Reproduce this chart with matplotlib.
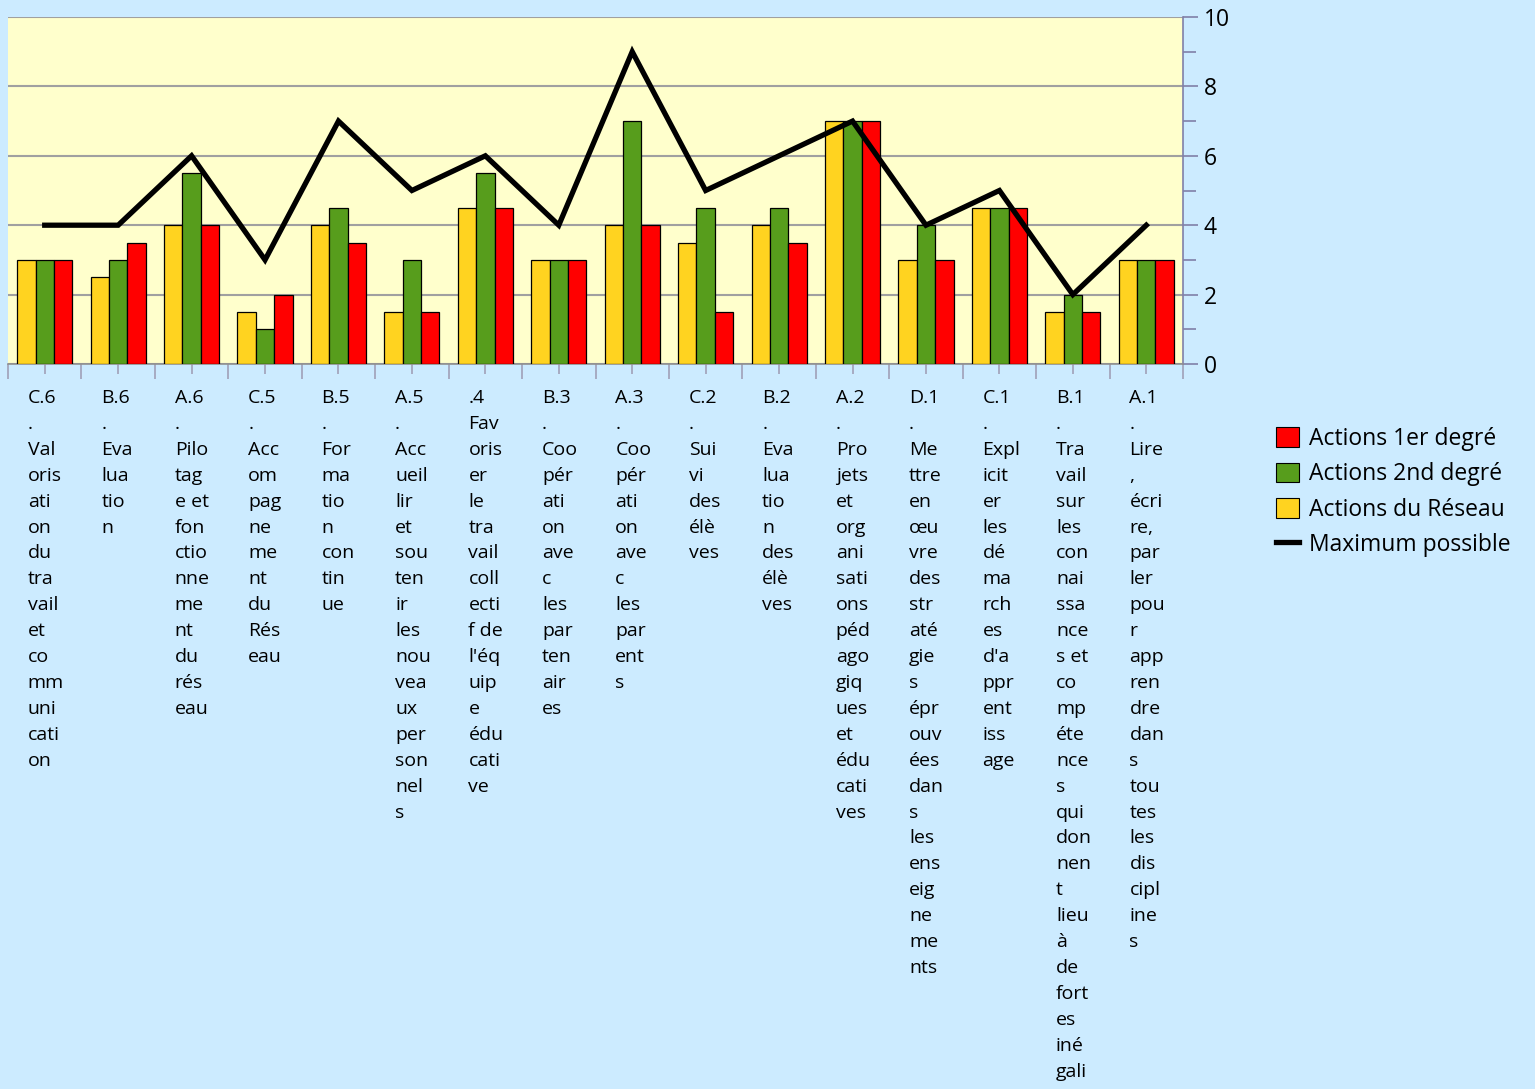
import numpy as np
import matplotlib
matplotlib.use('Agg')
import matplotlib.pyplot as plt
from matplotlib.patches import Patch
from matplotlib.lines import Line2D
from matplotlib.ticker import MultipleLocator, FixedLocator
import matplotlib.transforms as mtransforms

plt.rcParams['font.family'] = ['Open Sans', 'DejaVu Sans']

labels = [
    "C.6\n.\nVal\noris\nati\non\ndu\ntra\nvail\net\nco\nmm\nuni\ncati\non",
    "B.6\n.\nEva\nlua\ntio\nn",
    "A.6\n.\nPilo\ntag\ne et\nfon\nctio\nnne\nme\nnt\ndu\nrés\neau",
    "C.5\n.\nAcc\nom\npag\nne\nme\nnt\ndu\nRés\neau",
    "B.5\n.\nFor\nma\ntio\nn\ncon\ntin\nue",
    "A.5\n.\nAcc\nueil\nlir\net\nsou\nten\nir\nles\nnou\nvea\nux\nper\nson\nnel\ns",
    ".4\nFav\noris\ner\nle\ntra\nvail\ncoll\necti\nf de\nl'éq\nuip\ne\nédu\ncati\nve",
    "B.3\n.\nCoo\npér\nati\non\nave\nc\nles\npar\nten\nair\nes",
    "A.3\n.\nCoo\npér\nati\non\nave\nc\nles\npar\nent\ns",
    "C.2\n.\nSui\nvi\ndes\nélè\nves",
    "B.2\n.\nEva\nlua\ntio\nn\ndes\nélè\nves",
    "A.2\n.\nPro\njets\net\norg\nani\nsati\nons\npéd\nago\ngiq\nues\net\nédu\ncati\nves",
    "D.1\n.\nMe\nttre\nen\nœu\nvre\ndes\nstr\naté\ngie\ns\népr\nouv\nées\ndan\ns\nles\nens\neig\nne\nme\nnts",
    "C.1\n.\nExpl\nicit\ner\nles\ndé\nma\nrch\nes\nd'a\nppr\nent\niss\nage",
    "B.1\n.\nTra\nvail\nsur\nles\ncon\nnai\nssa\nnce\ns et\nco\nmp\néte\nnce\ns\nqui\ndon\nnen\nt\nlieu\nà\nde\nfort\nes\niné\ngali",
    "A.1\n.\nLire\n,\nécri\nre,\npar\nler\npou\nr\napp\nren\ndre\ndan\ns\ntou\ntes\nles\ndis\ncipl\nine\ns",
]

reseau = [3, 2.5, 4, 1.5, 4, 1.5, 4.5, 3, 4, 3.5, 4, 7, 3, 4.5, 1.5, 3]
second = [3, 3, 5.5, 1, 4.5, 3, 5.5, 3, 7, 4.5, 4.5, 7, 4, 4.5, 2, 3]
premier = [3, 3.5, 4, 2, 3.5, 1.5, 4.5, 3, 4, 1.5, 3.5, 7, 3, 4.5, 1.5, 3]
maximum = [4, 4, 6, 3, 7, 5, 6, 4, 9, 5, 6, 7, 4, 5, 2, 4]

c_bg = '#CCEBFF'
c_plot = '#FFFFCC'
c_yellow = '#FFD320'
c_green = '#579D1C'
c_red = '#FF0000'
c_axis = '#8080A8'

fig = plt.figure(figsize=(15.35, 10.89), dpi=100, facecolor=c_bg)
ax = fig.add_axes([8 / 1535, 1 - 364 / 1089, 1175 / 1535, 347 / 1089])
ax.set_facecolor(c_plot)

x = np.arange(len(labels))
w = 0.25
ax.bar(x - w, reseau, w, color=c_yellow, edgecolor='black', linewidth=0.9, zorder=3)
ax.bar(x, second, w, color=c_green, edgecolor='black', linewidth=0.9, zorder=3)
ax.bar(x + w, premier, w, color=c_red, edgecolor='black', linewidth=0.9, zorder=3)
ax.plot(x, maximum, color='black', lw=3.8, solid_joinstyle='miter', zorder=4)

ax.set_xlim(-0.5, len(labels) - 0.5)
ax.set_ylim(0, 10)

for s in ['left', 'top']:
    ax.spines[s].set_visible(False)
ax.spines['right'].set_color(c_axis)
ax.spines['bottom'].set_color('#909090')
ax.spines['right'].set_linewidth(1.2)
ax.spines['bottom'].set_linewidth(1.2)

ax.yaxis.tick_right()
ax.yaxis.set_major_locator(MultipleLocator(2))
ax.yaxis.set_minor_locator(MultipleLocator(1))
ax.tick_params(axis='y', which='major', length=11, width=1.2, color=c_axis,
               labelsize=16.5, pad=4)
ax.tick_params(axis='y', which='minor', length=9, width=1.2, color=c_axis)
ax.grid(axis='y', which='major', color='#A0A0A0', lw=1.5, zorder=1)

ax.xaxis.set_major_locator(FixedLocator(np.arange(-0.5, len(labels), 1)))
ax.xaxis.set_minor_locator(FixedLocator(x))
ax.tick_params(axis='x', which='major', length=11, width=1.2, color='#A0A0B8',
               labelbottom=False)
ax.tick_params(axis='x', which='minor', length=7, width=1.2, color='#A0A0B8')

trans = mtransforms.blended_transform_factory(ax.transData, ax.transAxes)
for i, lab in enumerate(labels):
    ax.text(i - 0.23, -0.072, lab, transform=trans, ha='left', va='top',
            fontsize=14, linespacing=1.565, clip_on=False)

handles = [
    Patch(facecolor=c_red, edgecolor='black', lw=0.8),
    Patch(facecolor=c_green, edgecolor='black', lw=0.8),
    Patch(facecolor=c_yellow, edgecolor='black', lw=0.8),
    Line2D([0], [0], color='black', lw=3.8),
]
names = ['Actions 1er degré', 'Actions 2nd degré', 'Actions du Réseau',
         'Maximum possible']
fig.legend(handles, names, loc='upper left', bbox_to_anchor=(1267 / 1535, 1 - 418 / 1089),
           frameon=False, fontsize=16.5, handlelength=1.0, handleheight=0.95,
           handletextpad=0.45, labelspacing=0.49, borderaxespad=0)

fig.savefig('out.png', dpi=100, facecolor=c_bg)
